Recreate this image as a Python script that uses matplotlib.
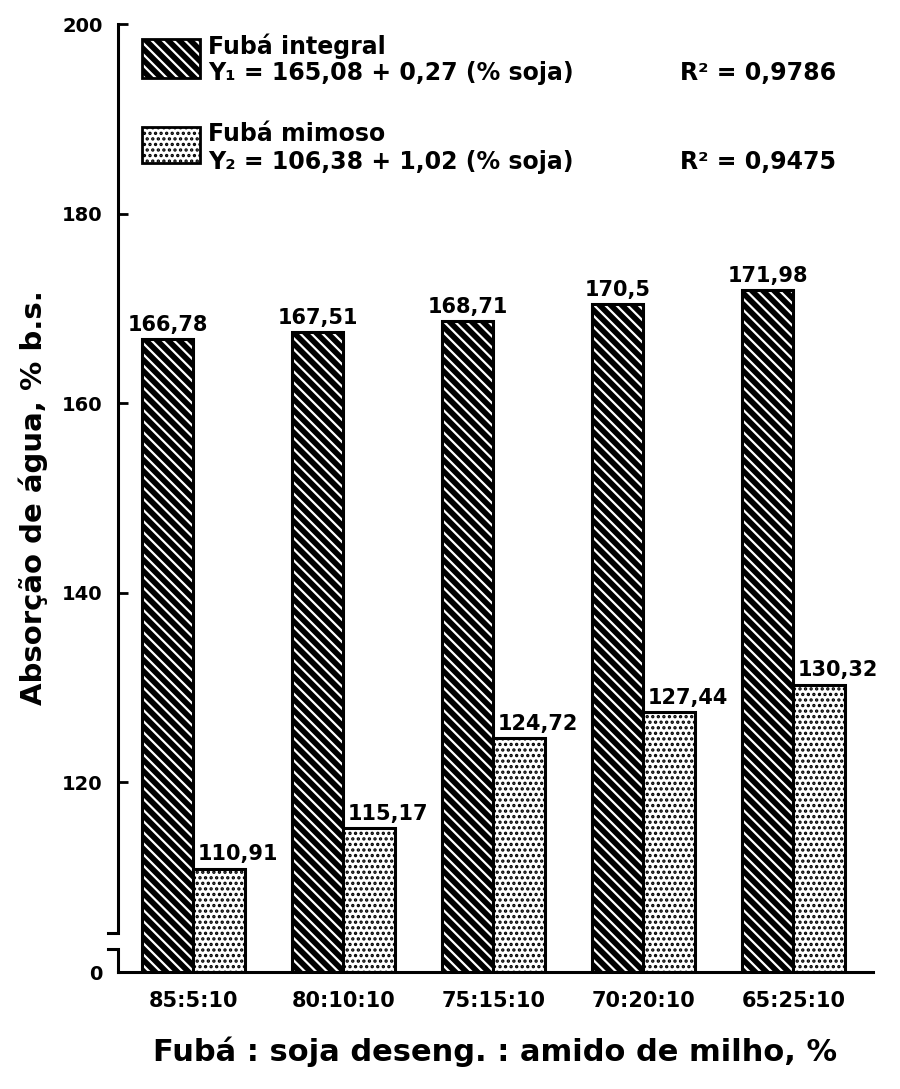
import numpy as np
import matplotlib.pyplot as plt
from matplotlib.patches import Rectangle

plt.rcParams['font.family'] = ['DejaVu Sans']
plt.rcParams['font.weight'] = 'bold'
plt.rcParams['hatch.linewidth'] = 1.6

# Blends of fubá : soja desengordurada : amido de milho
blends = ['85:5:10', '80:10:10', '75:15:10', '70:20:10', '65:25:10']
integral = [166.78, 167.51, 168.71, 170.5, 171.98]
mimoso = [110.91, 115.17, 124.72, 127.44, 130.32]
integral_labels = ['166,78', '167,51', '168,71', '170,5', '171,98']
mimoso_labels = ['110,91', '115,17', '124,72', '127,44', '130,32']

yticks = [100, 120, 140, 160, 180, 200]
ytick_labels = ['0', '120', '140', '160', '180', '200']

STRIPES = '\\\\\\'
DOTS = '...'

fig = plt.figure(figsize=(9, 10.89), dpi=100)
ax = fig.add_axes([0.131, 0.1074, 0.839, 0.8705])

x = np.arange(len(blends))
w = 0.343

# hatched bars: black fill, white diagonal lines, then a black outline on top
ax.bar(x - w / 2, integral, w, facecolor='black', edgecolor='white', hatch=STRIPES, linewidth=0)
ax.bar(x - w / 2, integral, w, facecolor='none', edgecolor='black', linewidth=2.2)
# dotted bars
ax.bar(x + w / 2, mimoso, w, facecolor='white', edgecolor='black', hatch=DOTS, linewidth=0)
ax.bar(x + w / 2, mimoso, w, facecolor='none', edgecolor='black', linewidth=2.2)

for xi, v, s in zip(x, integral, integral_labels):
    ax.annotate(s, (xi - w / 2, v), xytext=(0, 3), textcoords='offset points',
                ha='center', va='bottom', fontsize=15, fontweight='bold')
for xi, v, s in zip(x, mimoso, mimoso_labels):
    ax.annotate(s, (xi, v), xytext=(3, 3), textcoords='offset points',
                ha='left', va='bottom', fontsize=15, fontweight='bold')

# y axis starts at 0 but is broken below 120
ax.set_ylim(100, 200)
ax.set_xlim(-0.503, 4.53)
ax.set_yticks(yticks)
ax.set_yticklabels(ytick_labels)
ax.set_xticks(x)
ax.set_xticklabels(blends)
ax.tick_params(axis='y', direction='in', length=7, width=2, pad=11, labelsize=14)
ax.tick_params(axis='x', length=0, pad=14, labelsize=15)

for side in ['top', 'right', 'left']:
    ax.spines[side].set_visible(False)
ax.spines['bottom'].set_linewidth(2.2)

yt = ax.get_yaxis_transform()
ax.plot([0, 0, -0.013], [100, 102.4, 102.4], color='black', lw=2.2, transform=yt,
        clip_on=False, solid_joinstyle='miter')
ax.plot([-0.013, 0, 0], [104.1, 104.1, 200], color='black', lw=2.2, transform=yt,
        clip_on=False, solid_joinstyle='miter')

ax.set_ylabel('Absorção de água, % b.s.', fontsize=21, fontweight='bold', labelpad=10)
ax.set_xlabel('Fubá : soja deseng. : amido de milho, %', fontsize=22, fontweight='bold',
              labelpad=18)

# legend with regression equations
ax.add_patch(Rectangle((0.032, 0.943), 0.077, 0.041, transform=ax.transAxes,
                       facecolor='black', edgecolor='white', hatch=STRIPES, lw=0))
ax.add_patch(Rectangle((0.032, 0.943), 0.077, 0.041, transform=ax.transAxes,
                       facecolor='none', edgecolor='black', lw=2))
ax.add_patch(Rectangle((0.032, 0.853), 0.077, 0.038, transform=ax.transAxes,
                       facecolor='white', edgecolor='black', hatch=DOTS, lw=0))
ax.add_patch(Rectangle((0.032, 0.853), 0.077, 0.038, transform=ax.transAxes,
                       facecolor='none', edgecolor='black', lw=2))

leg_kw = dict(transform=ax.transAxes, fontsize=17, fontweight='bold', va='center', ha='left')
ax.text(0.119, 0.977, 'Fubá integral', **leg_kw)
ax.text(0.119, 0.948, 'Y₁ = 165,08 + 0,27 (% soja)', **leg_kw)
ax.text(0.744, 0.948, 'R² = 0,9786', **leg_kw)
ax.text(0.119, 0.884, 'Fubá mimoso', **leg_kw)
ax.text(0.119, 0.855, 'Y₂ = 106,38 + 1,02 (% soja)', **leg_kw)
ax.text(0.744, 0.855, 'R² = 0,9475', **leg_kw)

fig.savefig('out.png', dpi=100)
